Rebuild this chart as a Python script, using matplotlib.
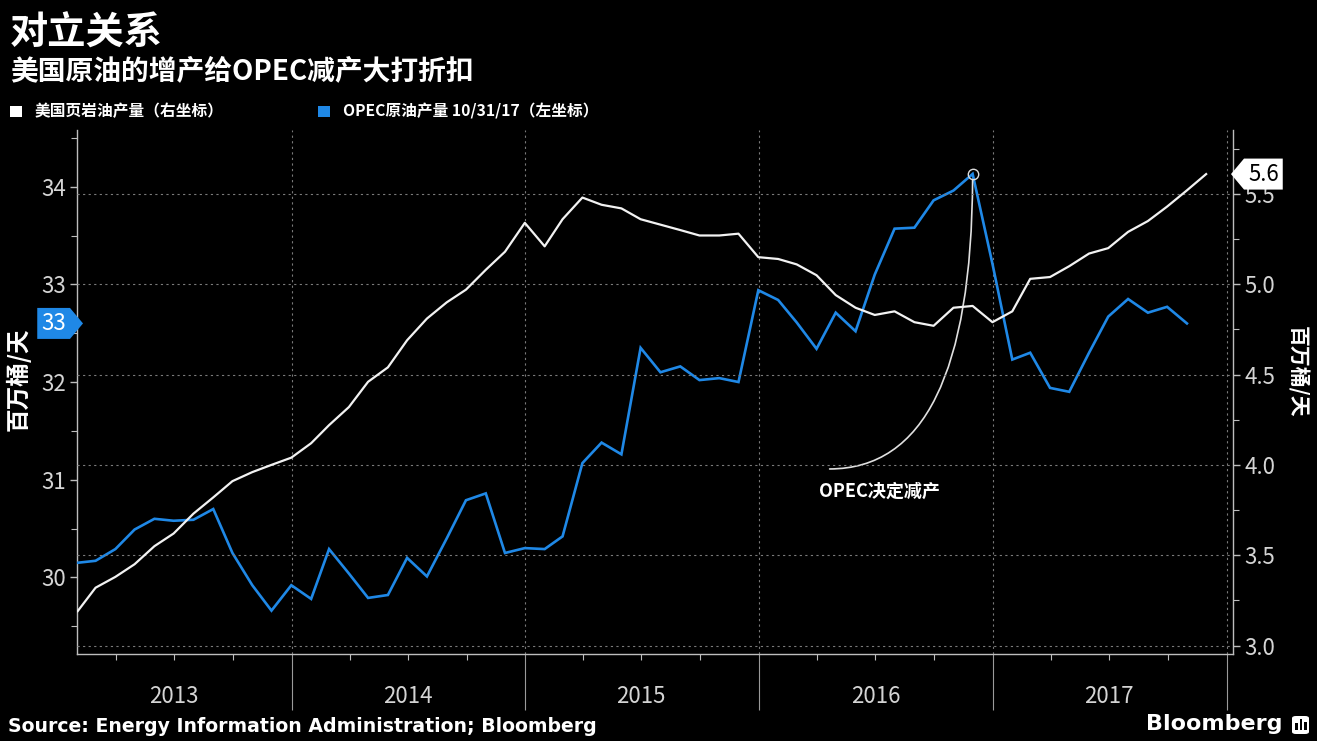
import numpy as np
import pandas as pd
import matplotlib
matplotlib.use("Agg")
import matplotlib.pyplot as plt
import matplotlib.dates as mdates
from matplotlib.path import Path
from matplotlib.patches import Rectangle, FancyBboxPatch
from matplotlib.ticker import MultipleLocator, FormatStrFormatter

plt.rcParams['font.family'] = ['Noto Sans CJK SC', 'DejaVu Sans']

# ---------------- data ----------------
months = pd.date_range('2013-01-31', periods=59, freq='ME')

us_shale = [3.19, 3.32, 3.38, 3.45, 3.55, 3.62, 3.73, 3.82, 3.91, 3.96, 4.00, 4.04,
            4.12, 4.22, 4.32, 4.46, 4.54, 4.69, 4.81, 4.90, 4.97, 5.08, 5.18, 5.34,
            5.21, 5.36, 5.48, 5.44, 5.42, 5.36, 5.33, 5.30, 5.27, 5.27, 5.28, 5.15,
            5.14, 5.11, 5.05, 4.94, 4.87, 4.83, 4.85, 4.79, 4.77, 4.87, 4.88, 4.79,
            4.85, 5.03, 5.04, 5.10, 5.17, 5.20, 5.29, 5.35, 5.43, 5.52, 5.61]

opec = [30.15, 30.17, 30.29, 30.49, 30.60, 30.58, 30.59, 30.70, 30.25, 29.92, 29.66, 29.92,
        29.78, 30.29, 30.04, 29.79, 29.82, 30.20, 30.01, 30.40, 30.79, 30.86, 30.25, 30.30,
        30.29, 30.42, 31.17, 31.38, 31.26, 32.35, 32.10, 32.16, 32.02, 32.04, 32.00, 32.94,
        32.84, 32.61, 32.34, 32.71, 32.52, 33.10, 33.57, 33.58, 33.86, 33.96, 34.13, 33.21,
        32.23, 32.30, 31.94, 31.90, 32.30, 32.67, 32.85, 32.71, 32.77, 32.60]

title = '对立关系'
subtitle = '美国原油的增产给OPEC减产大打折扣'
legend_labels = ['美国页岩油产量（右坐标）', 'OPEC原油产量 10/31/17（左坐标）']
ylabel = '百万桶/天'
note = 'OPEC决定减产'
years = [2013, 2014, 2015, 2016, 2017]
source = 'Source: Energy Information Administration; Bloomberg'

# ---------------- style ----------------
BG = 'black'
WHITE = '#f2f2f2'
BLUE = '#1f88e6'
TICKC = '#d4d4d4'
SPINE = '#bdbdbd'
GRID = '#7a7a7a'

W, H = 1317, 741
fig = plt.figure(figsize=(W / 100, H / 100), dpi=100, facecolor=BG)

x0, x1, ytop, ybot = 77, 1233, 130, 654
ax = fig.add_axes([x0 / W, 1 - ybot / H, (x1 - x0) / W, (ybot - ytop) / H])
ax.set_facecolor(BG)
ax2 = ax.twinx()

opec_dates = months[:len(opec)]
ax.plot(opec_dates, opec, color=BLUE, lw=1.9, solid_joinstyle='miter', zorder=3)
ax2.plot(months, us_shale, color=WHITE, lw=1.6, zorder=3)

ax.set_xlim(pd.Timestamp('2013-01-30'), pd.Timestamp('2018-01-11'))
ax.set_ylim(29.216, 34.58)
ax2.set_ylim(2.953, 5.854)

# x axis
ax.xaxis.set_major_locator(mdates.YearLocator())
ax.xaxis.set_minor_locator(mdates.MonthLocator(bymonth=[4, 7, 10]))
ax.tick_params(axis='x', which='major', length=40, width=0.8, color='#9a9a9a',
               labelbottom=False)
ax.tick_params(axis='x', which='minor', length=4, width=0.8, color=SPINE)
ax.grid(axis='x', which='major', color=GRID, lw=0.8, ls=(0, (2, 3)))
for yr in years:
    ax.text(pd.Timestamp(f'{yr}-07-01'), -0.082, str(yr), transform=ax.get_xaxis_transform(),
            ha='center', va='center', fontsize=16, color=TICKC)

# left y axis
ax.yaxis.set_major_locator(MultipleLocator(1))
ax.yaxis.set_minor_locator(MultipleLocator(0.5))
ax.tick_params(axis='y', which='major', length=5, width=1, color=SPINE, labelcolor=TICKC,
               labelsize=16, pad=3)
ax.tick_params(axis='y', which='minor', length=4, width=0.8, color=SPINE)

# right y axis
ax2.yaxis.set_major_locator(MultipleLocator(0.5))
ax2.yaxis.set_minor_locator(MultipleLocator(0.25))
ax2.yaxis.set_major_formatter(FormatStrFormatter('%.1f'))
ax2.tick_params(axis='y', which='major', length=5, width=1, color=SPINE, labelcolor=TICKC,
                labelsize=16, pad=3)
ax2.tick_params(axis='y', which='minor', length=4, width=0.8, color=SPINE)
ax2.grid(axis='y', which='major', color=GRID, lw=0.8, ls=(0, (2, 3)))

for a in (ax, ax2):
    a.spines['top'].set_visible(False)
    for s in ('left', 'right', 'bottom'):
        a.spines[s].set_color(SPINE)
        a.spines[s].set_linewidth(1.0)
ax.spines['right'].set_visible(False)
ax2.spines['left'].set_visible(False)
ax2.spines['bottom'].set_visible(False)


# value tags
def tag_left_point(x0, y0, width, height, mutation_size):
    pad = 0.18 * mutation_size
    x0 -= pad; y0 -= pad; width += 2 * pad; height += 2 * pad
    xa, ya = x0 + width, y0 + height
    tip = height * 0.42
    ym = (y0 + ya) / 2
    verts = [(x0 - tip, ym), (x0, y0), (xa, y0), (xa, ya), (x0, ya), (x0 - tip, ym)]
    return Path(verts, closed=True)


def tag_right_point(x0, y0, width, height, mutation_size):
    pad = 0.18 * mutation_size
    x0 -= pad; y0 -= pad; width += 2 * pad; height += 2 * pad
    xa, ya = x0 + width, y0 + height
    tip = height * 0.42
    ym = (y0 + ya) / 2
    verts = [(x0, y0), (xa, y0), (xa + tip, ym), (xa, ya), (x0, ya), (x0, y0)]
    return Path(verts, closed=True)


last_shale = us_shale[-1]
ax2.annotate(f'{last_shale:.1f}', xy=(1, last_shale), xycoords=ax2.get_yaxis_transform(),
             xytext=(15, 0), textcoords='offset pixels', ha='left', va='center',
             fontsize=16, color='black', zorder=10, annotation_clip=False,
             bbox=dict(boxstyle=tag_left_point, fc='white', ec='none'))

last_opec = opec[-1]
ax.annotate(f'{last_opec:.0f}', xy=(0, last_opec), xycoords=ax.get_yaxis_transform(),
            xytext=(-11, 0), textcoords='offset pixels', ha='right', va='center',
            fontsize=16, color='white', zorder=10, annotation_clip=False,
            bbox=dict(boxstyle=tag_right_point, fc=BLUE, ec='none'))

# OPEC decision annotation
ipk = int(np.argmax(opec))
pk_date, pk_val = opec_dates[ipk], opec[ipk]
ax.plot([pk_date], [pk_val], 'o', ms=7.5, mfc='none', mec='#dddddd', mew=1.0, zorder=5)
ax.annotate('', xy=(pk_date, pk_val), xytext=(-143, -295), textcoords='offset pixels',
            arrowprops=dict(arrowstyle='-', color='#e0e0e0', lw=1.2, shrinkA=0, shrinkB=4,
                            connectionstyle='angle3,angleA=0,angleB=90'), zorder=4)
ax.annotate(note, xy=(pk_date, pk_val), xytext=(-93, -317), textcoords='offset pixels',
            ha='center', va='center', fontsize=13, fontweight='bold', color='white')

# titles
fig.text(10 / W, 1 - 33 / H, title, fontsize=27.5, fontweight='bold', color='white',
         ha='left', va='center')
fig.text(10 / W, 1 - 71 / H, subtitle, fontsize=20, fontweight='bold', color='white',
         ha='left', va='center')

# legend
fig.add_artist(Rectangle((10 / W, 1 - 117 / H), 12 / W, 11 / H, transform=fig.transFigure,
                         fc='white', ec='none'))
fig.text(35 / W, 1 - 111 / H, legend_labels[0], fontsize=11.3, fontweight='bold',
         color='white', ha='left', va='center')
fig.add_artist(Rectangle((318 / W, 1 - 117 / H), 12 / W, 11 / H, transform=fig.transFigure,
                         fc=BLUE, ec='none'))
fig.text(343 / W, 1 - 111 / H, legend_labels[1], fontsize=11.3, fontweight='bold',
         color='white', ha='left', va='center')

# axis titles
fig.text(18 / W, 1 - 379 / H, ylabel, rotation=90, fontsize=17, fontweight='bold',
         color='white', ha='center', va='center')
fig.text(1297 / W, 1 - 372 / H, ylabel, rotation=270, fontsize=15, fontweight='bold',
         color='white', ha='center', va='center')

# footer
fig.text(8 / W, 1 - 727 / H, source, fontsize=13.6, fontweight='bold', color='white',
         ha='left', va='center', family=['DejaVu Sans'])
fig.text(1282 / W, 1 - 724 / H, 'Bloomberg', fontsize=16, fontweight='bold', color='white',
         ha='right', va='center', family=['DejaVu Sans'])
fig.add_artist(FancyBboxPatch((1292 / W, 1 - 734 / H), 17 / W, 18 / H,
                              boxstyle='round,pad=0,rounding_size=0.003',
                              transform=fig.transFigure, fc='white', ec='none'))
for i, hgt in enumerate([7, 11, 8]):
    fig.add_artist(Rectangle(((1295 + i * 4.5) / W, 1 - 730 / H), 2.5 / W, hgt / H,
                             transform=fig.transFigure, fc='black', ec='none'))

fig.savefig('out.png', dpi=100, facecolor=BG)
